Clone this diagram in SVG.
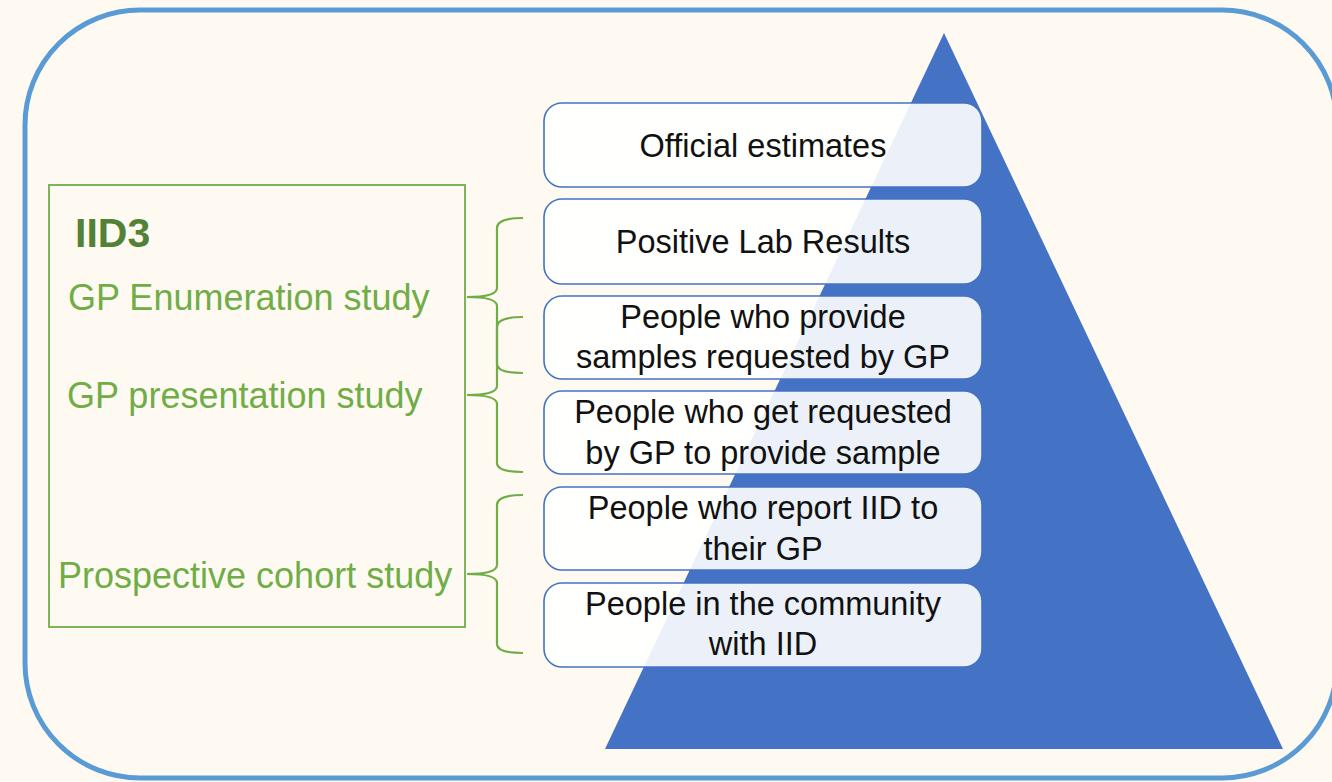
<svg xmlns="http://www.w3.org/2000/svg" width="1332" height="782" viewBox="0 0 1332 782">
<style>
.box{fill:#ffffff;fill-opacity:0.9;stroke:#4472C4;stroke-width:1.6}
.bt{font-family:"Liberation Sans",Arial,sans-serif;font-size:32.5px;fill:#111111;text-anchor:middle}
.gt{font-family:"Liberation Sans",Arial,sans-serif;font-size:36px;fill:#70AD47}
.br{fill:none;stroke:#70AD47;stroke-width:2.2}
</style>
<rect x="0" y="0" width="1332" height="782" fill="#FEFAF2"/>
<rect id="frame" x="25" y="10" width="1312" height="768" rx="115" ry="115" fill="#FEFAF2" stroke="#5B9BD5" stroke-width="5"/>
<polygon id="pyramid" points="944,33 1283,749 605,749" fill="#4472C4"/>
<g id="iid3">
<rect x="49" y="185" width="416" height="442" fill="none" stroke="#70AD47" stroke-width="1.8"/>
<text x="75" y="247" font-family="Liberation Sans,Arial,sans-serif" font-size="41" font-weight="bold" fill="#538135">IID3</text>
<text class="gt" x="68" y="310">GP Enumeration study</text>
<text class="gt" x="67" y="408">GP presentation study</text>
<text class="gt" x="58" y="588">Prospective cohort study</text>
</g>
<g id="connectors">
<path class="br" d="M523,218 Q497,218 497,228 L497,288 Q497,297 467,297 Q497,297 497,306 L497,364 Q497,373 523,373"/>
<path class="br" d="M523,317 Q497,317 497,327 L497,386 Q497,395 467,395 Q497,395 497,404 L497,463 Q497,472 523,472"/>
<path class="br" d="M523,495 Q497,495 497,505 L497,565 Q497,574 467,574 Q497,574 497,583 L497,644 Q497,653 523,653"/>
</g>
<g id="n1"><rect class="box" x="544" y="103" width="438" height="84" rx="18"/><text class="bt" x="763" y="157">Official estimates</text></g>
<g id="n2"><rect class="box" x="544" y="199" width="438" height="85" rx="18"/><text class="bt" x="763" y="253">Positive Lab Results</text></g>
<g id="n3"><rect class="box" x="544" y="296" width="438" height="83" rx="18"/><text class="bt" x="763" y="328">People who provide</text><text class="bt" x="763" y="368">samples requested by GP</text></g>
<g id="n4"><rect class="box" x="544" y="391" width="438" height="83" rx="18"/><text class="bt" x="763" y="423">People who get requested</text><text class="bt" x="763" y="464">by GP to provide sample</text></g>
<g id="n5"><rect class="box" x="544" y="487" width="438" height="83" rx="18"/><text class="bt" x="763" y="519">People who report IID to</text><text class="bt" x="763" y="560">their GP</text></g>
<g id="n6"><rect class="box" x="544" y="583" width="438" height="84" rx="18"/><text class="bt" x="763" y="615">People in the community</text><text class="bt" x="763" y="655">with IID</text></g>
</svg>
